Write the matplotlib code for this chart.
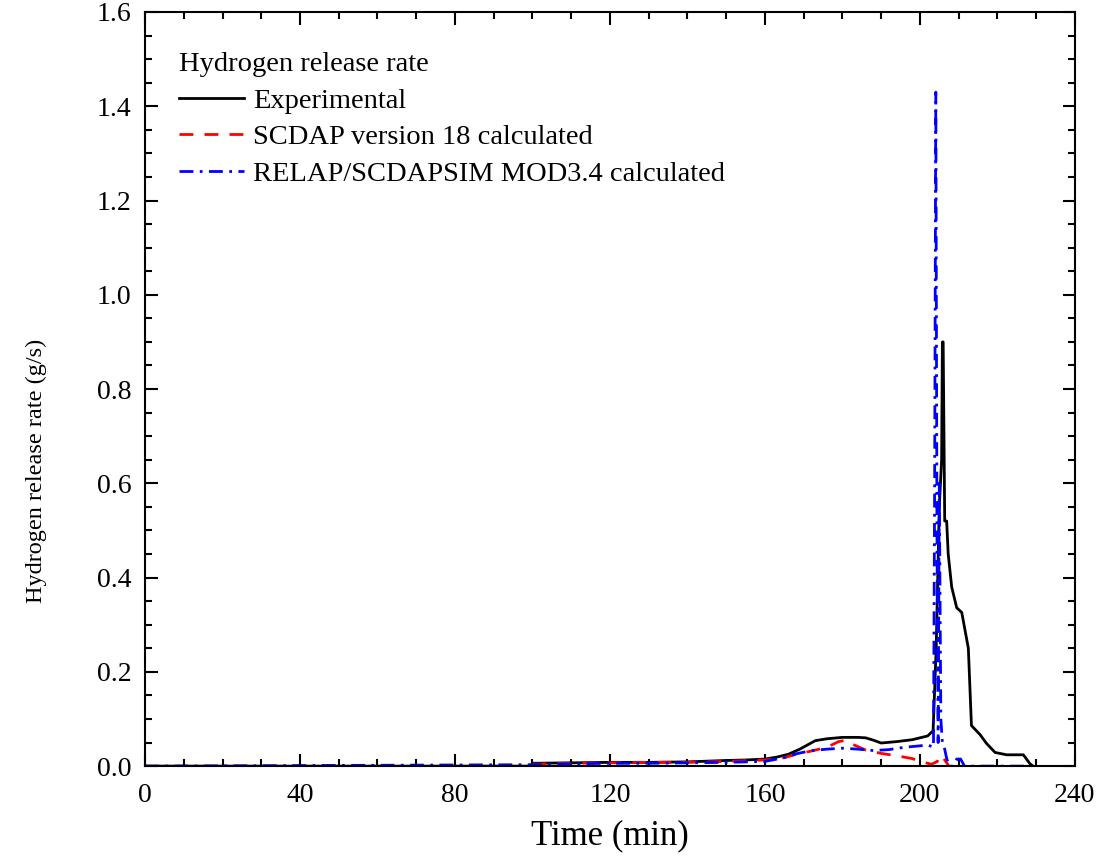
import matplotlib
matplotlib.use("Agg")
import matplotlib.pyplot as plt
from matplotlib.ticker import MultipleLocator

plt.rcParams['font.family'] = ['Liberation Serif', 'DejaVu Serif']

# Experimental hydrogen release rate (g/s) vs time (min)
expTime = [0, 99.5, 100, 110, 120, 130, 140, 150, 155, 160, 163, 166, 169, 171,
           173, 176, 180, 184, 186, 188, 190, 194, 198, 202, 203.4, 204.2, 205.0,
           205.6, 205.8, 206.0, 206.4, 206.9, 207.3, 208.2, 209.5, 210.8, 212.5,
           213.3, 215.5, 217.2, 219.4, 222.4, 226.7, 228.4, 229.2]
expRate = [0.0, 0.0, 0.006, 0.007, 0.008, 0.008, 0.009, 0.012, 0.013, 0.015,
           0.019, 0.025, 0.036, 0.045, 0.054, 0.058, 0.061, 0.061, 0.060, 0.055,
           0.049, 0.052, 0.056, 0.064, 0.075, 0.25, 0.55, 0.65, 0.90, 0.90, 0.52,
           0.52, 0.45, 0.38, 0.336, 0.326, 0.25, 0.086, 0.067, 0.048, 0.029,
           0.024, 0.024, 0.005, 0.0]

# SCDAP version 18 calculated
scdapTime = [100, 110, 120, 130, 140, 150, 160, 165, 168, 172, 176, 179, 181,
             183, 186, 190, 194, 198, 201, 203, 204.5, 205.5, 206.5, 207.5]
scdapRate = [0.004, 0.006, 0.007, 0.008, 0.008, 0.010, 0.013, 0.018, 0.025,
             0.032, 0.040, 0.052, 0.055, 0.045, 0.034, 0.027, 0.022, 0.016,
             0.008, 0.004, 0.010, 0.024, 0.012, 0.0]

# RELAP/SCDAPSIM MOD3.4 calculated
relapTime = [0, 100, 110, 120, 130, 140, 150, 160, 165, 168, 172, 176, 180, 184,
             188, 192, 196, 200, 202, 203.5, 203.8, 204.1, 204.4, 204.7, 205.0,
             205.4, 205.8, 206.3, 206.8, 207.5, 208.5, 209.5, 210.5, 211.5,
             212.5, 230]
relapRate = [0.0, 0.003, 0.005, 0.006, 0.006, 0.007, 0.008, 0.010, 0.018, 0.026,
             0.033, 0.036, 0.038, 0.036, 0.033, 0.035, 0.040, 0.043, 0.045, 0.04,
             0.6, 1.43, 0.5, 0.05, 0.6, 0.1, 0.05, 0.04, 0.02, 0.0, 0.0, 0.015,
             0.015, 0.0, 0.0, 0.0]

fig = plt.figure(figsize=(11.07, 8.56), dpi=100)
ax = fig.add_axes([0.131, 0.105, 0.840, 0.881])

ax.plot(expTime, expRate, color="black", lw=2.0, label="Experimental")
ax.plot(scdapTime, scdapRate, color="#ff0000", lw=2.0, dashes=(5, 4),
        label="SCDAP version 18 calculated")
ax.plot(relapTime, relapRate, color="#0000ff", lw=2.0, dashes=(5, 2.3, 1, 2.3),
        label="RELAP/SCDAPSIM MOD3.4 calculated")

ax.set_xlim(0, 240)
ax.set_ylim(0, 1.6)
ax.xaxis.set_major_locator(MultipleLocator(40))
ax.xaxis.set_minor_locator(MultipleLocator(10))
ax.yaxis.set_major_locator(MultipleLocator(0.2))
ax.yaxis.set_minor_locator(MultipleLocator(0.05))
ax.yaxis.set_major_formatter(plt.FormatStrFormatter('%.1f'))

ax.tick_params(which="both", direction="in", top=True, right=True, width=1.5,
               labelsize=20)
ax.tick_params(which="major", length=9)
ax.tick_params(which="minor", length=5)
ax.tick_params(axis="y", pad=10)
ax.tick_params(axis="x", pad=12)
for s in ax.spines.values():
    s.set_linewidth(1.5)

ax.set_xlabel("Time (min)", fontsize=25, labelpad=8)
ax.set_ylabel("Hydrogen release rate (g/s)", fontsize=17.5)
ax.yaxis.set_label_coords(-0.105, 0.391)

leg = ax.legend(loc="upper left", bbox_to_anchor=(0.024, 0.9615),
                title="Hydrogen release rate", frameon=False,
                fontsize=20.5, title_fontsize=20.5, handlelength=2.3,
                handletextpad=0.3, labelspacing=0.37, borderaxespad=0,
                alignment="left")

fig.savefig("out.png", dpi=100)
